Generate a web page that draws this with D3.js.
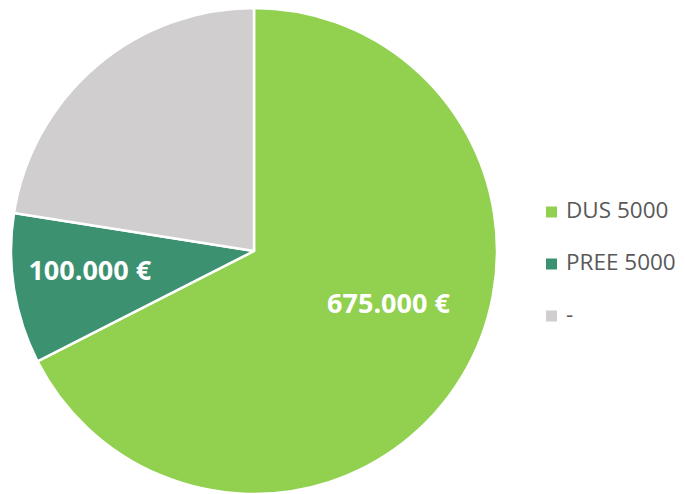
<!DOCTYPE html>
<html>
<head>
<meta charset="utf-8">
<script src="https://cdn.jsdelivr.net/npm/d3@7"></script>
<style>
  body { margin: 0; background: #fff; }
  svg { display: block; }
</style>
</head>
<body>
<svg id="SVG_CONTAINER" width="685" height="494"></svg>
<script>
// data
const categories = ["DUS 5000", "PREE 5000", "-"];
const values = [675000, 100000, 225000];
const valueLabels = ["675.000 €", "100.000 €", ""];

const colours = ["#92D050", "#3B9170", "#D0CECE"];

const width = 685, height = 494;
const cx = 254, cy = 251, radius = 243;

// label nudges (Excel does not put them on the centroid)
const labelOffset = [[10, -24], [-20, -3], [0, 0]];

let svg = d3.select("#SVG_CONTAINER");

let pie = d3.pie().sort(null).value(d => d);
let arcs = pie(values);

let arc = d3.arc().innerRadius(0).outerRadius(radius);
let labelArc = d3.arc().innerRadius(146).outerRadius(146);

let chart = svg.append("g")
    .attr("transform", "translate(" + cx + "," + cy + ")");

chart.selectAll("path.slice")
    .data(arcs)
    .enter()
    .append("path")
    .attr("class", "slice")
    .attr("d", arc)
    .attr("fill", (d, i) => colours[i])
    .attr("stroke", "#fff")
    .attr("stroke-width", 2.5)
    .attr("stroke-linejoin", "round");

chart.selectAll("text.value")
    .data(arcs)
    .enter()
    .append("text")
    .attr("class", "value")
    .attr("x", (d, i) => labelArc.centroid(d)[0] + labelOffset[i][0])
    .attr("y", (d, i) => labelArc.centroid(d)[1] + labelOffset[i][1])
    .attr("dy", "0.357em")
    .attr("text-anchor", "middle")
    .style("font-family", "'Open Sans', 'Liberation Sans', sans-serif")
    .style("font-weight", "bold")
    .style("font-size", "27px")
    .style("fill", "#fff")
    .text((d, i) => valueLabels[i]);

//** LEGEND *****************************************
let legendY = d3.scalePoint()
    .domain(categories)
    .range([212, 316]);

let legend = svg.append("g").attr("class", "legend");

categories.forEach(function (c, i) {
    legend.append("rect")
        .attr("x", 546)
        .attr("y", legendY(c) - 5.5)
        .attr("width", 11)
        .attr("height", 11)
        .attr("fill", colours[i]);
    legend.append("text")
        .attr("x", 566)
        .attr("y", legendY(c) - 2)
        .attr("dy", "0.357em")
        .style("font-family", "'Open Sans', 'Liberation Sans', sans-serif")
        .style("font-size", "22.5px")
        .style("fill", "#595959")
        .text(c);
});
</script>
</body>
</html>
